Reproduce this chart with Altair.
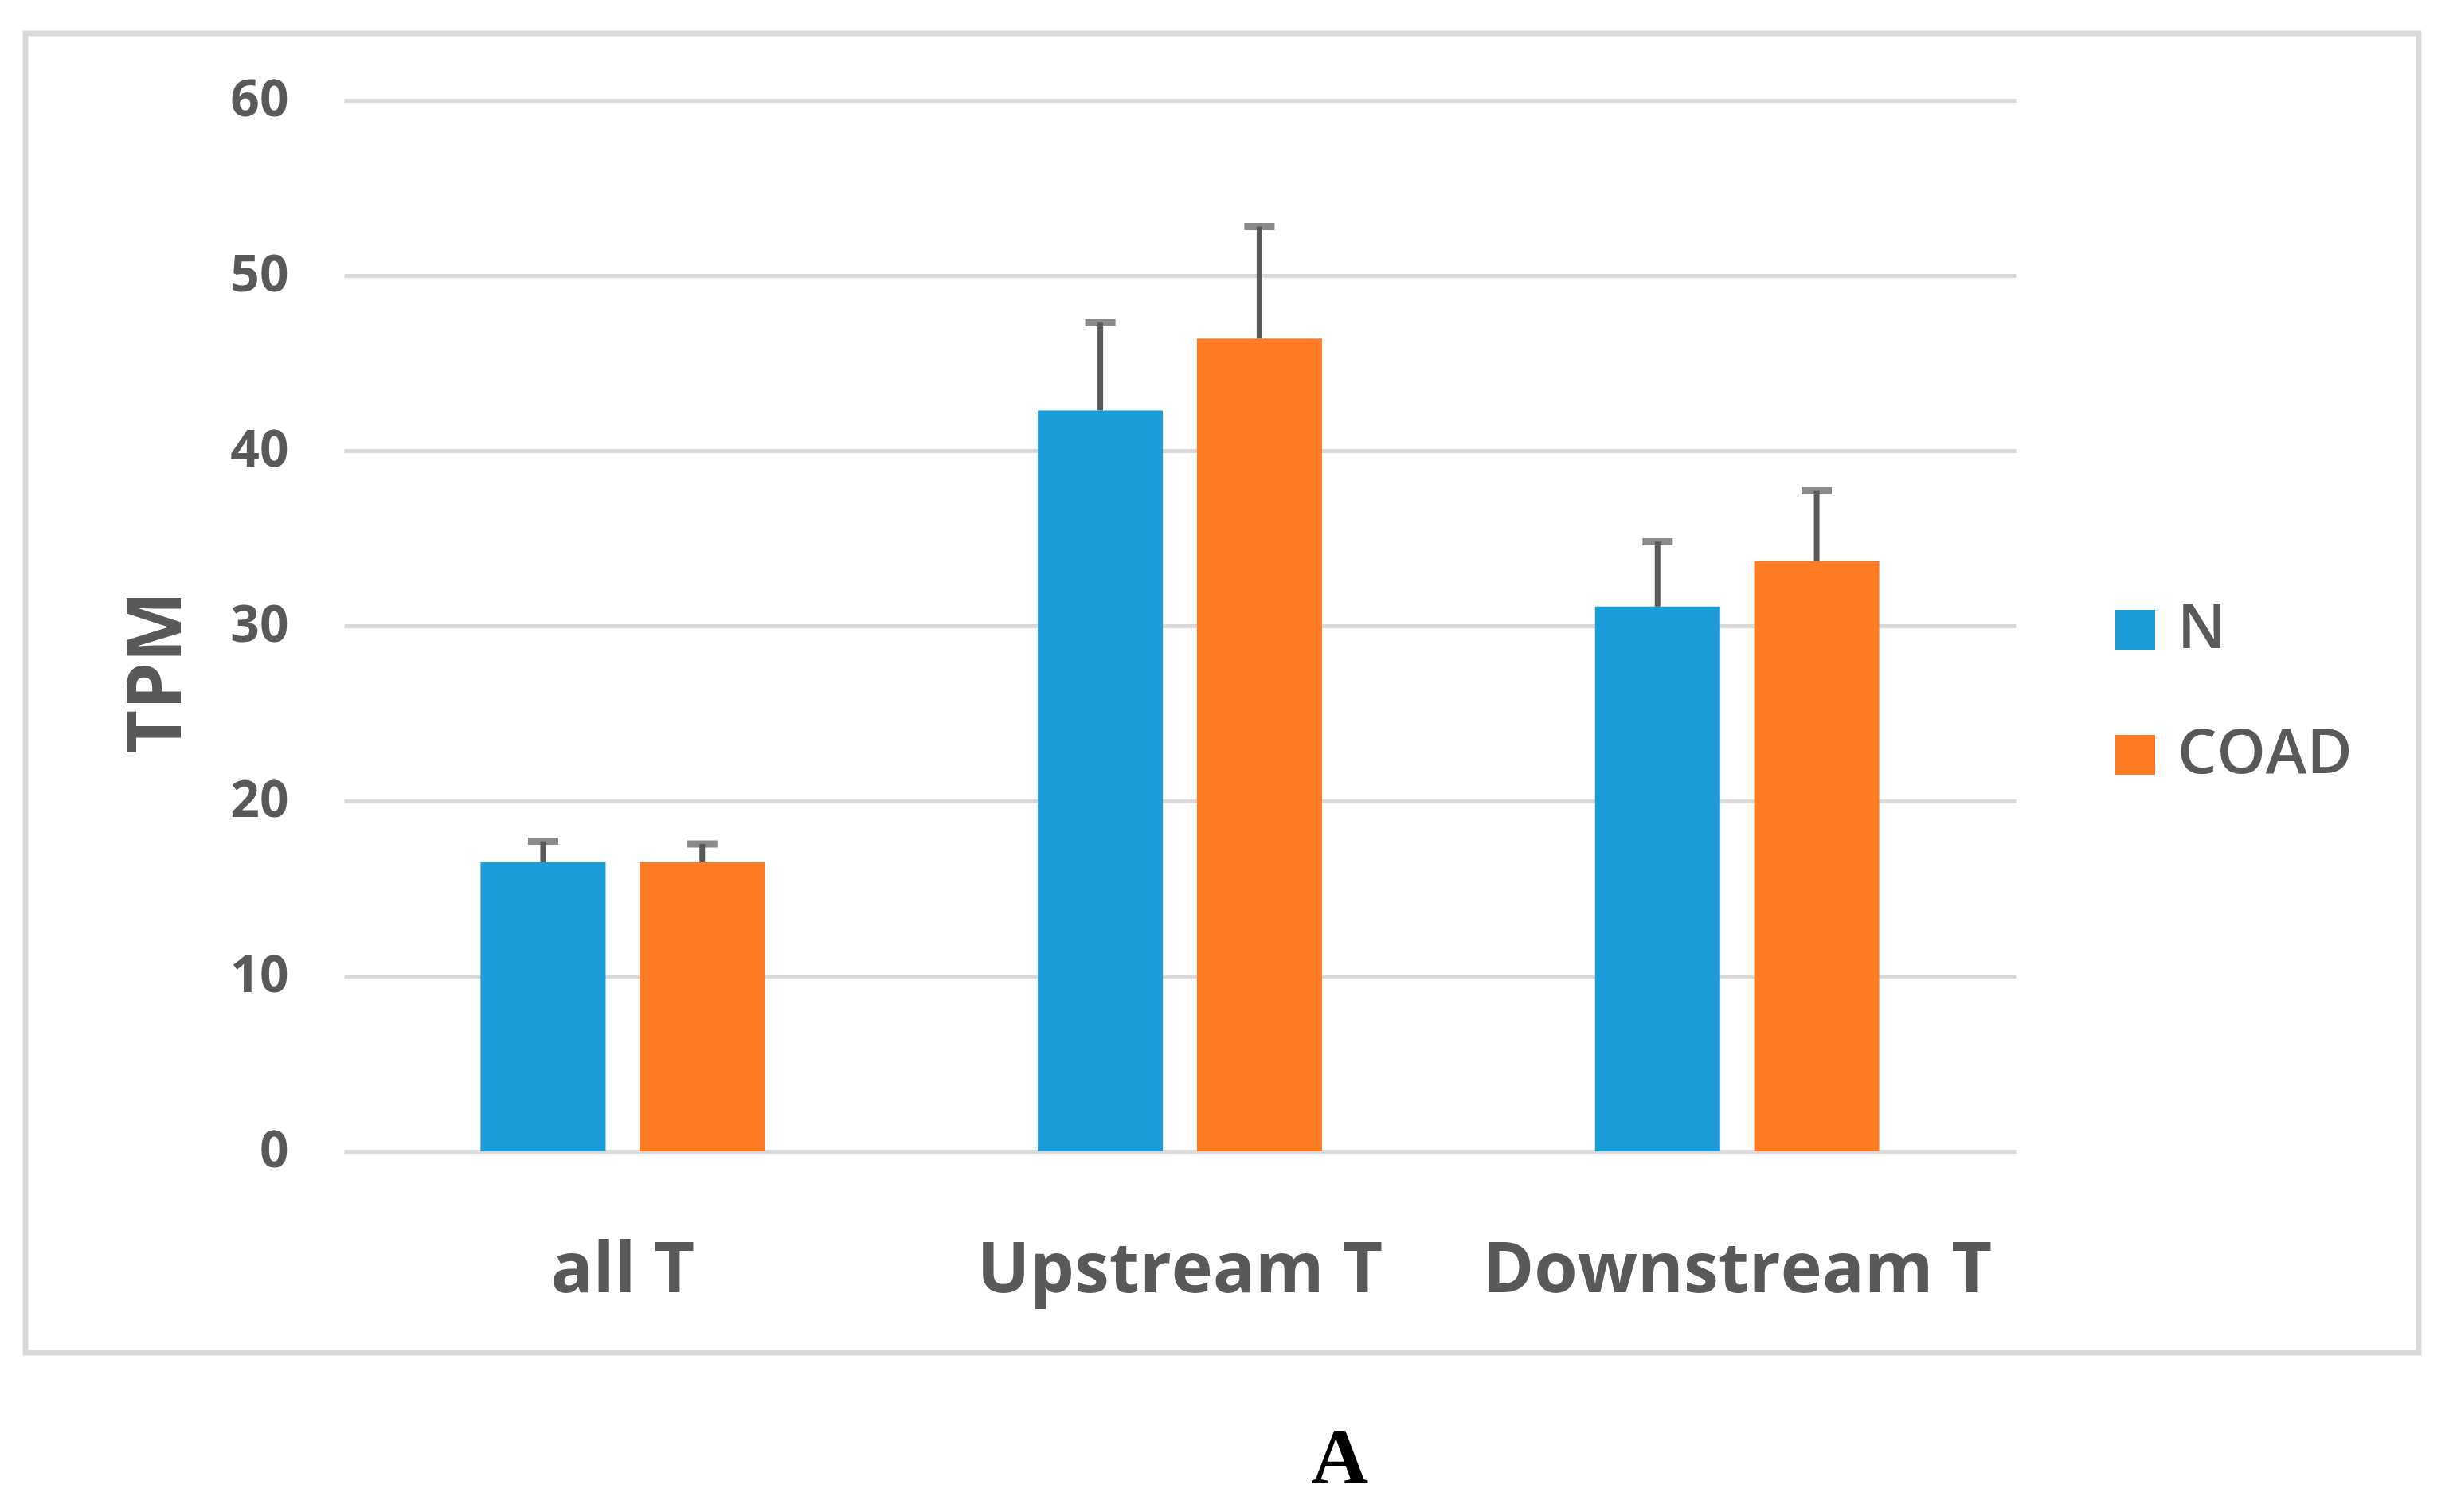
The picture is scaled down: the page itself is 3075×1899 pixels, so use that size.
import altair as alt
import pandas as pd

groups = ["all T", "Upstream T", "Downstream T"]
series = ["N", "COAD"]
n_vals = [16.5, 42.3, 31.1]
n_err = [1.2, 5.0, 3.7]
coad_vals = [16.5, 46.4, 33.7]
coad_err = [1.05, 6.4, 4.0]
colors = ["#1C9CD8", "#FF7C25"]
y_ticks = [0, 10, 20, 30, 40, 50, 60]
caption = ["A"]

rows = []
for g, v, e in zip(groups, n_vals, n_err):
    rows.append({"group": g, "series": "N", "value": v, "upper": v + e})
for g, v, e in zip(groups, coad_vals, coad_err):
    rows.append({"group": g, "series": "COAD", "value": v, "upper": v + e})
df = pd.DataFrame(rows)
cap_df = pd.DataFrame({"t": caption})

GRAY = "#595959"
FONT = "Open Sans"

x_enc = alt.X(
    "group:N", sort=groups, title=None,
    scale=alt.Scale(paddingInner=0.49, paddingOuter=0.245),
    axis=alt.Axis(labelFont=FONT, labelFontSize=88, labelFontWeight="bold",
                  labelColor=GRAY, labelAngle=0, ticks=False, tickSize=0,
                  domain=False, labelBaseline="alphabetic", labelPadding=176,
                  labelLimit=0),
)
xo_enc = alt.XOffset("series:N", sort=series,
                     scale=alt.Scale(paddingInner=0.214, paddingOuter=0))
y_enc = alt.Y(
    "value:Q", title="TPM",
    scale=alt.Scale(domain=[0, 60], nice=False),
    axis=alt.Axis(values=y_ticks, labelFont=FONT, labelFontSize=64,
                  labelFontWeight="bold", labelColor=GRAY, ticks=False,
                  tickSize=0, domain=False, labelPadding=70,
                  grid=True, gridColor="#D9D9D9", gridWidth=5,
                  titleFont=FONT, titleFontSize=95, titleFontWeight="bold",
                  titleColor=GRAY, titleX=-235, titleY=718,
                  titleBaseline="middle", titleAngle=270),
)

bars = alt.Chart(df).mark_bar().encode(
    x=x_enc, xOffset=xo_enc, y=y_enc,
    color=alt.Color("series:N", sort=series,
                    scale=alt.Scale(domain=series, range=colors),
                    legend=alt.Legend(title=None, orient="none",
                                      legendX=2210, legendY=626,
                                      symbolType="square", symbolSize=2500,
                                      symbolStrokeWidth=0,
                                      labelFont=FONT, labelFontSize=78,
                                      labelFontWeight=600,
                                      labelColor=GRAY, labelOffset=14,
                                      labelLimit=0,
                                      rowPadding=79, padding=0)),
)

rules = alt.Chart(df).mark_rule(color=GRAY, strokeWidth=7).encode(
    x=alt.X("group:N", sort=groups), xOffset=alt.XOffset("series:N", sort=series),
    y="value:Q", y2="upper:Q",
)

caps = alt.Chart(df).mark_tick(color=GRAY, thickness=9, size=38).encode(
    x=alt.X("group:N", sort=groups), xOffset=alt.XOffset("series:N", sort=series),
    y="upper:Q",
)

border = alt.Chart(cap_df).mark_rect(fillOpacity=0, stroke="#D9D9D9", strokeWidth=7).encode(
    x=alt.value(-400), x2=alt.value(2605), y=alt.value(-84), y2=alt.value(1573),
)

label = alt.Chart(cap_df).mark_text(font="Liberation Serif", fontWeight="bold",
                                    fontSize=100, color="black", align="center",
                                    baseline="alphabetic").encode(
    x=alt.value(1250), y=alt.value(1737), text="t:N",
)

chart = alt.layer(border, bars, rules, caps, label).properties(
    width=2099, height=1320,
    autosize=alt.AutoSizeParams(type="none"),
    padding={"left": 424, "top": 118, "right": 529, "bottom": 445},
    background="white",
).configure_view(stroke=None)

chart.save("out.html", embed_options={"renderer": "svg", "actions": False})
